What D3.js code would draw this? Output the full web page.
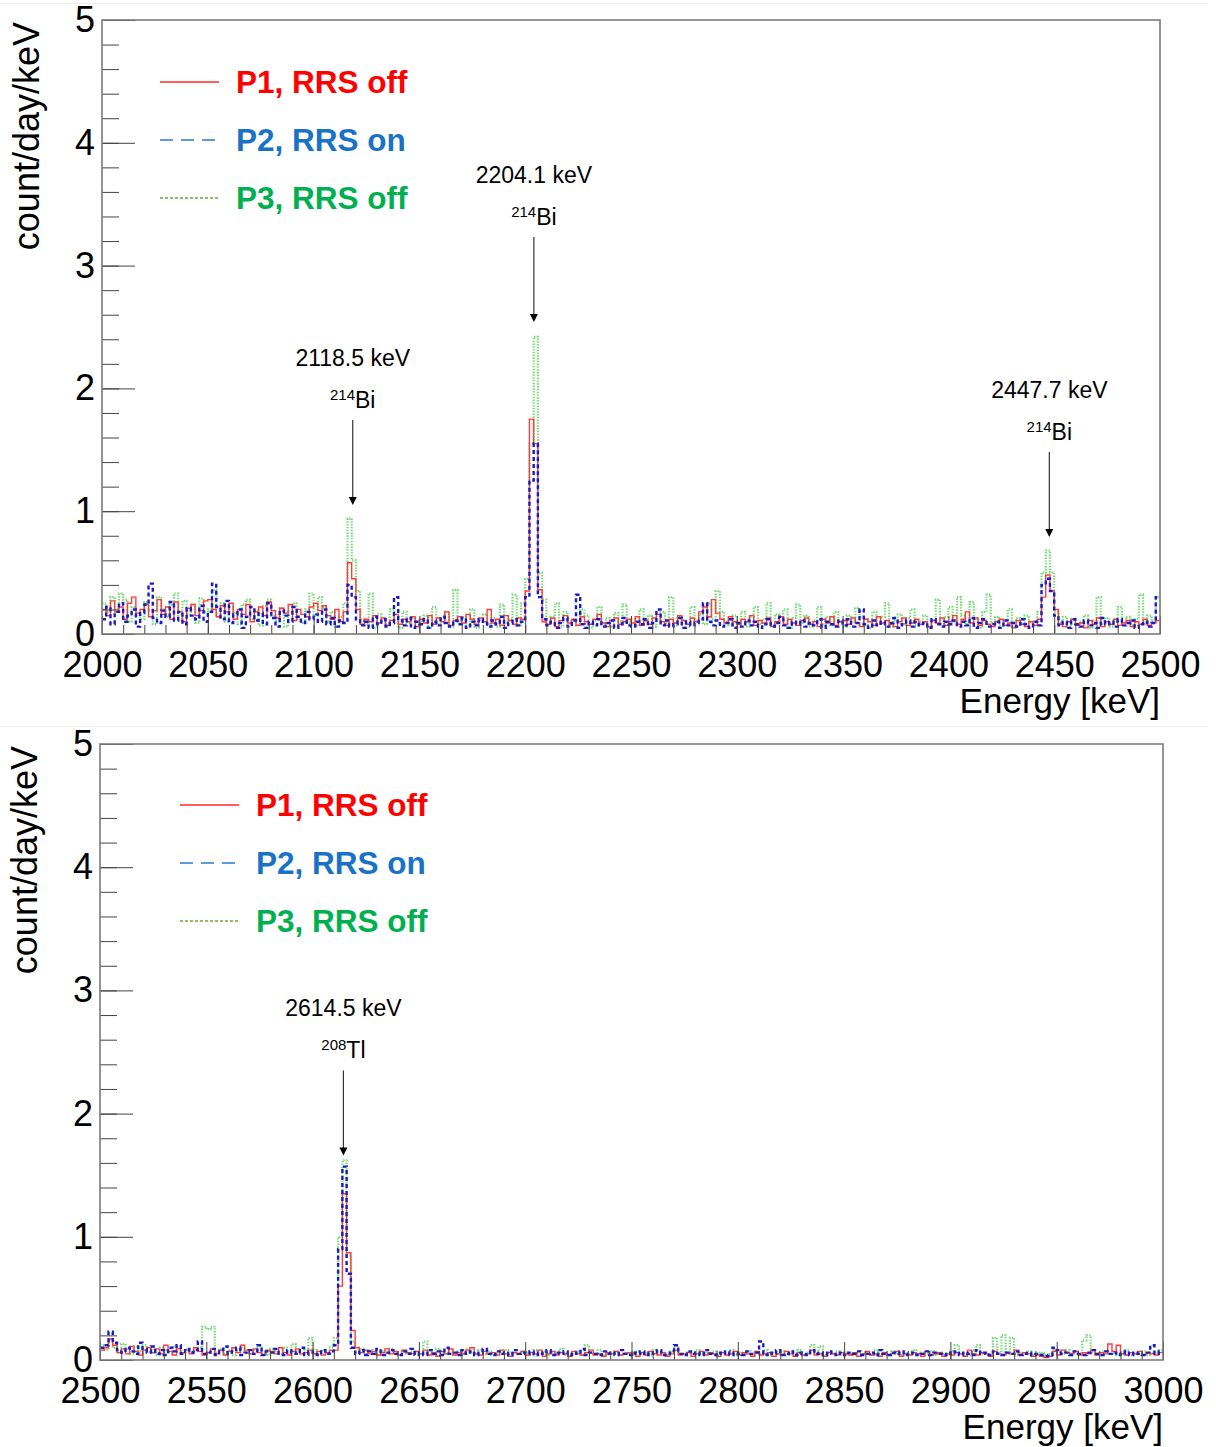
<!DOCTYPE html>
<html>
<head>
<meta charset="utf-8">
<script src="https://cdn.jsdelivr.net/npm/d3@7"></script>
<style>
  html, body { margin: 0; padding: 0; background: #fff; }
  svg { display: block; font-family: "Liberation Sans", Arial, Helvetica, sans-serif; }
</style>
</head>
<body>
<div id="chart"></div>
<script>
// --- data: count/day/keV in 2 keV bins ---
var binWidth = 2;

// panel 1 : 2000 - 2500 keV
var p1Range = [2000, 2500];
var p1Red = [
  .20,.15,.27,.18,.22,.12,.25,.30,.17,.20,.24,.14,.19,.28,.16,.22,.12,.26,.18,.10,.21,.24,.15,.19,.27,
  .28,.20,.14,.23,.18,.25,.12,.20,.16,.24,.10,.18,.22,.15,.26,.19,.13,.21,.17,.24,.11,.20,.16,.14,.22,
  .25,.19,.23,.15,.12,.20,.10,.18,.58,.45,.20,.08,.12,.10,.15,.09,.13,.07,.11,.16,.08,.12,.10,.14,.06,
  .12,.09,.15,.08,.13,.10,.18,.07,.11,.14,.09,.16,.12,.08,.13,.10,.20,.09,.12,.07,.15,.11,.08,.13,.12,
  .35,1.75,1.55,.36,.10,.08,.13,.06,.11,.15,.09,.12,.07,.14,.10,.08,.12,.16,.09,.06,.11,.13,.08,.10,.12,
  .09,.14,.07,.11,.08,.13,.16,.10,.07,.12,.09,.15,.11,.08,.13,.10,.18,.22,.14,.28,.17,.12,.09,.14,.10,
  .08,.12,.10,.15,.07,.11,.09,.13,.06,.10,.14,.08,.12,.09,.07,.11,.13,.08,.10,.06,.12,.09,.14,.07,.10,
  .11,.08,.13,.09,.06,.12,.10,.07,.14,.09,.11,.08,.06,.10,.13,.07,.09,.12,.08,.10,.06,.11,.09,.13,.07,
  .10,.15,.08,.12,.18,.09,.13,.07,.11,.08,.06,.10,.12,.07,.09,.05,.11,.08,.06,.10,.07,.12,.30,.48,.35,
  .20,.08,.06,.10,.12,.07,.09,.05,.11,.08,.13,.06,.10,.08,.12,.07,.09,.11,.06,.10,.08,.12,.07,.09,.11
];
var p1Blue = [
  .12,.22,.08,.18,.25,.10,.15,.20,.06,.17,.24,.41,.13,.09,.19,.14,.26,.11,.18,.08,.21,.15,.12,.23,.10,
  .18,.41,.22,.12,.27,.09,.16,.20,.05,.14,.22,.11,.17,.08,.25,.13,.06,.19,.15,.10,.22,.14,.09,.18,.12,
  .16,.10,.20,.08,.13,.06,.11,.09,.40,.30,.12,.07,.10,.05,.14,.08,.12,.06,.09,.30,.11,.07,.13,.05,.10,
  .08,.12,.05,.10,.07,.14,.09,.06,.11,.08,.13,.05,.10,.07,.12,.09,.06,.11,.08,.14,.05,.09,.12,.07,.10,
  .30,1.25,1.55,.30,.12,.07,.10,.05,.09,.13,.06,.11,.32,.08,.05,.10,.07,.12,.06,.09,.11,.05,.08,.13,.07,
  .06,.10,.08,.12,.05,.09,.20,.07,.11,.06,.08,.13,.05,.10,.07,.09,.12,.25,.10,.07,.11,.06,.09,.12,.05,
  .09,.06,.11,.07,.10,.05,.08,.12,.06,.09,.14,.07,.05,.10,.08,.11,.06,.09,.07,.12,.05,.10,.08,.06,.11,
  .07,.12,.06,.09,.20,.08,.05,.11,.07,.10,.06,.09,.13,.05,.08,.11,.06,.10,.07,.09,.05,.12,.08,.06,.10,
  .08,.11,.06,.10,.07,.13,.05,.09,.12,.06,.08,.10,.05,.11,.07,.09,.06,.12,.08,.05,.10,.07,.40,.45,.35,
  .15,.07,.10,.05,.12,.08,.06,.11,.07,.09,.05,.13,.08,.10,.06,.12,.07,.09,.11,.05,.08,.10,.06,.09,.30
];
var p1Green = [
  .25,.18,.30,.20,.33,.28,.10,.22,.15,.12,.26,.19,.08,.30,.20,.14,.24,.33,.11,.27,.16,.24,.09,.29,.18,
  .20,.36,.14,.25,.10,.22,.17,.08,.24,.28,.12,.19,.07,.23,.28,.15,.10,.21,.06,.18,.25,.12,.09,.20,.33,
  .15,.30,.22,.10,.18,.06,.14,.25,.94,.60,.35,.12,.08,.33,.05,.16,.10,.07,.20,.12,.05,.18,.09,.13,.06,
  .10,.15,.05,.22,.08,.12,.18,.06,.36,.10,.14,.07,.20,.05,.11,.16,.08,.13,.06,.24,.09,.12,.32,.07,.25,
  .45,1.55,2.42,.50,.28,.08,.14,.25,.06,.18,.10,.12,.07,.20,.15,.05,.11,.22,.08,.13,.06,.17,.10,.24,.09,
  .12,.07,.20,.10,.15,.06,.12,.18,.09,.30,.07,.14,.11,.06,.22,.10,.16,.08,.25,.12,.35,.18,.10,.07,.15,
  .10,.18,.06,.14,.22,.08,.12,.25,.07,.16,.10,.20,.05,.13,.24,.09,.15,.06,.11,.22,.08,.14,.07,.18,.10,
  .06,.15,.10,.21,.07,.12,.05,.18,.09,.14,.25,.06,.11,.16,.08,.13,.20,.07,.10,.15,.05,.12,.28,.08,.14,
  .22,.10,.30,.15,.08,.26,.12,.05,.18,.32,.09,.14,.07,.11,.20,.06,.13,.08,.15,.10,.07,.18,.50,.68,.50,
  .18,.09,.14,.06,.12,.08,.10,.15,.05,.11,.30,.08,.13,.06,.10,.22,.09,.14,.07,.12,.32,.08,.15,.10,.30
];

// panel 2 : 2500 - 3000 keV
var p2Range = [2500, 3000];
var p2Red = [
  .08,.10,.17,.12,.06,.09,.05,.11,.07,.04,.08,.10,.06,.09,.05,.12,.07,.04,.09,.06,.08,.05,.10,.07,.04,
  .06,.09,.05,.08,.04,.07,.10,.06,.12,.08,.05,.09,.06,.04,.08,.07,.05,.10,.06,.04,.07,.09,.05,.06,.08,
  .05,.07,.04,.06,.08,.08,.60,1.35,.87,.24,.10,.06,.08,.05,.07,.04,.06,.09,.05,.07,.04,.08,.06,.05,.07,
  .05,.08,.04,.06,.03,.07,.05,.09,.04,.06,.05,.08,.10,.05,.04,.07,.05,.06,.04,.08,.05,.03,.06,.05,.07,
  .04,.06,.05,.08,.03,.05,.07,.04,.06,.05,.03,.07,.05,.04,.06,.08,.04,.05,.03,.06,.05,.07,.04,.05,.06,
  .05,.03,.06,.04,.07,.05,.04,.06,.03,.05,.08,.04,.05,.06,.03,.05,.07,.04,.06,.05,.03,.06,.04,.05,.07,
  .04,.06,.05,.03,.07,.04,.05,.06,.03,.05,.04,.07,.05,.03,.06,.04,.05,.08,.04,.05,.03,.06,.05,.04,.06,
  .05,.04,.06,.03,.05,.07,.04,.05,.03,.06,.04,.05,.07,.03,.05,.04,.06,.05,.03,.07,.04,.05,.06,.03,.05,
  .04,.06,.05,.03,.08,.05,.04,.06,.05,.03,.07,.05,.04,.06,.05,.08,.04,.06,.05,.03,.04,.03,.02,.03,.07,
  .04,.08,.06,.05,.07,.04,.06,.05,.08,.04,.06,.05,.13,.07,.12,.05,.04,.06,.05,.07,.04,.06,.05,.04,.06
];
var p2Blue = [
  .10,.12,.23,.14,.08,.06,.10,.07,.05,.14,.09,.06,.11,.05,.08,.04,.10,.07,.12,.05,.09,.06,.08,.15,.05,
  .06,.09,.04,.08,.11,.05,.07,.10,.04,.06,.08,.05,.12,.04,.07,.06,.09,.05,.04,.08,.06,.05,.10,.04,.07,
  .06,.04,.08,.05,.07,.12,.90,1.57,.70,.10,.05,.08,.04,.07,.05,.09,.04,.06,.08,.05,.04,.07,.05,.09,.04,
  .06,.04,.08,.05,.07,.04,.10,.05,.06,.04,.08,.05,.07,.04,.06,.09,.05,.04,.07,.05,.06,.04,.08,.05,.06,
  .05,.07,.04,.06,.05,.08,.04,.06,.05,.07,.04,.06,.05,.09,.04,.06,.05,.04,.07,.05,.06,.04,.08,.05,.04,
  .06,.05,.07,.04,.06,.05,.08,.04,.05,.06,.12,.05,.04,.07,.05,.06,.04,.08,.05,.04,.06,.05,.07,.04,.06,
  .05,.04,.07,.05,.06,.15,.04,.06,.05,.08,.04,.05,.07,.04,.06,.05,.04,.08,.05,.06,.04,.07,.05,.04,.06,
  .04,.06,.05,.07,.04,.05,.06,.04,.08,.05,.04,.06,.05,.07,.04,.05,.06,.04,.05,.07,.04,.06,.05,.04,.06,
  .05,.07,.04,.06,.05,.04,.08,.05,.06,.04,.07,.05,.04,.06,.05,.07,.04,.05,.06,.04,.05,.04,.03,.04,.10,
  .08,.05,.06,.04,.07,.05,.04,.06,.08,.05,.04,.07,.05,.06,.04,.05,.07,.04,.06,.05,.04,.06,.12,.05,.07
];
var p2Green = [
  .12,.08,.15,.10,.06,.13,.09,.05,.11,.07,.12,.06,.09,.04,.10,.08,.06,.11,.07,.05,.09,.06,.08,.10,.27,
  .25,.27,.06,.09,.05,.08,.04,.07,.10,.06,.05,.08,.12,.06,.04,.09,.07,.05,.10,.06,.13,.07,.05,.08,.18,
  .08,.05,.08,.06,.10,.18,1.00,1.62,.85,.15,.06,.09,.05,.08,.06,.04,.07,.05,.09,.06,.04,.08,.05,.07,.06,
  .05,.15,.07,.04,.09,.06,.05,.08,.04,.07,.05,.09,.06,.04,.08,.05,.07,.04,.06,.05,.08,.04,.06,.05,.07,
  .06,.04,.08,.05,.07,.04,.06,.05,.09,.04,.06,.05,.07,.04,.12,.06,.05,.08,.04,.06,.05,.07,.04,.06,.05,
  .04,.07,.05,.06,.04,.08,.05,.06,.04,.07,.12,.05,.04,.06,.05,.08,.04,.06,.05,.07,.04,.06,.05,.08,.04,
  .06,.05,.07,.04,.06,.05,.08,.04,.06,.05,.07,.04,.06,.05,.08,.04,.06,.12,.05,.11,.04,.06,.05,.07,.04,
  .06,.05,.04,.07,.05,.06,.04,.08,.05,.06,.04,.07,.05,.04,.06,.05,.08,.04,.06,.05,.07,.04,.06,.05,.04,
  .07,.12,.05,.06,.04,.08,.12,.05,.06,.04,.18,.06,.20,.05,.18,.04,.06,.05,.07,.04,.05,.06,.04,.05,.08,
  .06,.05,.08,.04,.07,.05,.16,.20,.06,.05,.04,.07,.05,.06,.04,.05,.08,.04,.06,.05,.07,.04,.06,.05,.08
];

// peak annotations: energy, isotope mass, isotope symbol, arrow tip (count/day/keV)
var p1Peaks = [
  { e: 2118.5, mass: "214", el: "Bi", tip: 1.05 },
  { e: 2204.1, mass: "214", el: "Bi", tip: 2.54 },
  { e: 2447.7, mass: "214", el: "Bi", tip: 0.79 }
];
var p2Peaks = [
  { e: 2614.5, mass: "208", el: "Tl", tip: 1.66 }
];

var legendLabels = ["P1, RRS off", "P2, RRS on", "P3, RRS off"];
var yDomain = [0, 5];

var W = 1216, H = 1447;

var svg = d3.select("#chart").append("svg")
    .attr("width", W)
    .attr("height", H);

// faint separators between the stacked pictures
svg.append("line").attr("x1", 0).attr("x2", 1208).attr("y1", 3.5).attr("y2", 3.5)
    .attr("stroke", "#eeeeee").attr("stroke-width", 1);
svg.append("line").attr("x1", 0).attr("x2", 1208).attr("y1", 726.5).attr("y2", 726.5)
    .attr("stroke", "#eeeeee").attr("stroke-width", 1);

var defs = svg.append("defs");

drawPanel({
    id: "p1", left: 102, right: 1160, top: 20, bottom: 634,
    range: p1Range, red: p1Red, blue: p1Blue, green: p1Green,
    peaks: p1Peaks, legendX: 160, legendY: 82
});
drawPanel({
    id: "p2", left: 100, right: 1163, top: 744, bottom: 1360,
    range: p2Range, red: p2Red, blue: p2Blue, green: p2Green,
    peaks: p2Peaks, legendX: 180, legendY: 805
});

function drawPanel(cfg) {
    var x = d3.scaleLinear().domain(cfg.range).range([cfg.left, cfg.right]);
    var y = d3.scaleLinear().domain(yDomain).range([cfg.bottom, cfg.top]);
    var g = svg.append("g");

    defs.append("clipPath").attr("id", "clip-" + cfg.id)
        .append("rect")
        .attr("x", cfg.left).attr("y", cfg.top)
        .attr("width", cfg.right - cfg.left).attr("height", cfg.bottom - cfg.top);

    // histograms (step outline)
    var line = d3.line()
        .x(function(d) { return x(d[0]); })
        .y(function(d) { return y(d[1]); })
        .curve(d3.curveStepAfter);

    function steps(vals) {
        var pts = vals.map(function(v, i) { return [cfg.range[0] + i * binWidth, v]; });
        pts.push([cfg.range[0] + vals.length * binWidth, vals[vals.length - 1]]);
        return pts;
    }

    var hg = g.append("g").attr("clip-path", "url(#clip-" + cfg.id + ")");
    hg.append("path").attr("d", line(steps(cfg.green)))
        .attr("fill", "none").attr("stroke", "#72dc72").attr("stroke-width", 2.2)
        .attr("stroke-dasharray", "1.4,1.4");
    hg.append("path").attr("d", line(steps(cfg.red)))
        .attr("fill", "none").attr("stroke", "#ff3b3b").attr("stroke-width", 1.4);
    hg.append("path").attr("d", line(steps(cfg.blue)))
        .attr("fill", "none").attr("stroke", "#1a1acc").attr("stroke-width", 2.4)
        .attr("stroke-dasharray", "4,3");

    // ticks drawn inward, ROOT style
    var yMajor = d3.axisLeft(y).ticks(5).tickSizeInner(-33).tickSizeOuter(0).tickPadding(7)
        .tickFormat(d3.format("d"));
    var yMinor = d3.axisLeft(y).tickValues(d3.range(0, 5.01, 0.2)).tickSizeInner(-17)
        .tickSizeOuter(0).tickFormat("");
    var xMajor = d3.axisBottom(x).tickValues(d3.range(cfg.range[0], cfg.range[1] + 1, 50))
        .tickSizeInner(-18).tickSizeOuter(0).tickPadding(17).tickFormat(d3.format("d"));
    var xMinor = d3.axisBottom(x).tickValues(d3.range(cfg.range[0], cfg.range[1] + 1, 10))
        .tickSizeInner(-9).tickSizeOuter(0).tickFormat("");

    [yMinor, yMajor].forEach(function(ax) {
        g.append("g").attr("transform", "translate(" + cfg.left + ",0)").call(ax);
    });
    [xMinor, xMajor].forEach(function(ax) {
        g.append("g").attr("transform", "translate(0," + cfg.bottom + ")").call(ax);
    });
    g.selectAll(".domain").remove();
    g.selectAll(".tick line").attr("stroke", "#444").attr("stroke-width", 1);
    g.selectAll(".tick text").attr("fill", "#000").style("font-size", "36px")
        .style("font-family", "'Liberation Sans', Arial, sans-serif");

    // frame
    g.append("rect")
        .attr("x", cfg.left).attr("y", cfg.top)
        .attr("width", cfg.right - cfg.left).attr("height", cfg.bottom - cfg.top)
        .attr("fill", "none").attr("stroke", "#7a7a7a").attr("stroke-width", 1.6);

    // axis titles
    g.append("text")
        .attr("x", cfg.right).attr("y", cfg.bottom + 79)
        .attr("text-anchor", "end").style("font-size", "35px")
        .text("Energy [keV]");
    g.append("text")
        .attr("transform", "translate(" + (cfg.left - 63) + "," + (cfg.top + 2) + ") rotate(-90)")
        .attr("text-anchor", "end").style("font-size", "36px")
        .text("count/day/keV");

    // peak labels and arrows
    cfg.peaks.forEach(function(p) {
        var px = x(p.e), tipY = y(p.tip), topY = tipY - 85;
        g.append("line")
            .attr("x1", px).attr("x2", px).attr("y1", topY).attr("y2", tipY - 7)
            .attr("stroke", "#333").attr("stroke-width", 1.2);
        g.append("path")
            .attr("d", "M" + (px - 4) + "," + (tipY - 8) + "L" + (px + 4) + "," + (tipY - 8) +
                  "L" + px + "," + tipY + "Z")
            .attr("fill", "#000");
        var iso = g.append("text")
            .attr("x", px).attr("y", topY - 12)
            .attr("text-anchor", "middle").style("font-size", "23px");
        iso.append("tspan").attr("dy", -8).style("font-size", "15px").text(p.mass);
        iso.append("tspan").attr("dy", 8).text(p.el);
        g.append("text")
            .attr("x", px).attr("y", topY - 54)
            .attr("text-anchor", "middle").style("font-size", "23px")
            .text(d3.format(".1f")(p.e) + " keV");
    });

    // legend
    var legend = [
        { label: legendLabels[0], stroke: "#ff2a2a", dash: null, text: "#ff0000" },
        { label: legendLabels[1], stroke: "#2b78d4", dash: "13,8", text: "#1a72c6" },
        { label: legendLabels[2], stroke: "#6aaa3e", dash: "3,2", text: "#00b050" }
    ];
    legend.forEach(function(l, i) {
        var ly = cfg.legendY + i * 58;
        g.append("line")
            .attr("x1", cfg.legendX).attr("x2", cfg.legendX + 59)
            .attr("y1", ly).attr("y2", ly)
            .attr("stroke", l.stroke).attr("stroke-width", 1.6)
            .attr("stroke-dasharray", l.dash);
        g.append("text")
            .attr("x", cfg.legendX + 76).attr("y", ly + 11)
            .attr("fill", l.text).style("font-size", "31.5px").style("font-weight", "bold")
            .text(l.label);
    });
}
</script>
</body>
</html>
